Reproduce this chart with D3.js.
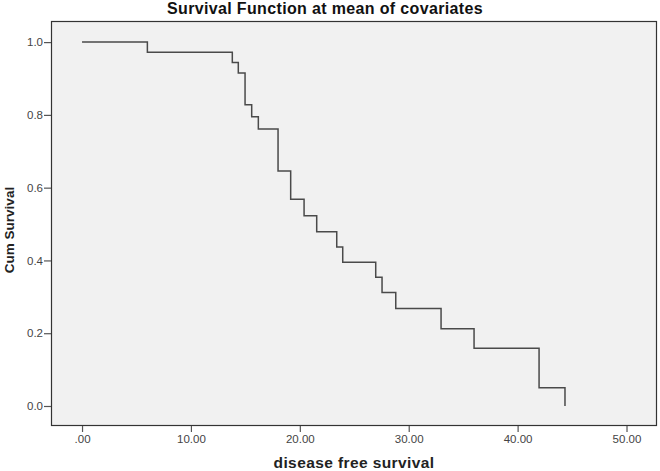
<!DOCTYPE html>
<html>
<head>
<meta charset="utf-8">
<script src="https://cdn.jsdelivr.net/npm/d3@7"></script>
<style>
  html, body { margin: 0; padding: 0; background: #ffffff; }
  svg { display: block; }
</style>
</head>
<body>
<svg id="chart" width="660" height="471"></svg>
<script>
// Data
const times    = [0, 6.0, 13.80, 14.35, 14.97, 15.58, 16.19, 18.0, 19.16, 20.39, 21.55, 23.39, 23.94, 26.97, 27.55, 28.81, 32.97, 36.0, 41.97, 44.35];
const survival = [1.0, 0.972, 0.944, 0.915, 0.828, 0.795, 0.761, 0.646, 0.568, 0.523, 0.479, 0.437, 0.395, 0.354, 0.312, 0.268, 0.212, 0.159, 0.050, 0.0];
const xTicks = [0, 10, 20, 30, 40, 50];
const yTicks = [0, 0.2, 0.4, 0.6, 0.8, 1.0];
const titleText = "Survival Function at mean of covariates";
const xLabel = "disease free survival";
const yLabel = "Cum Survival";

const svg = d3.select("#chart");
const plot = { left: 51, top: 21, right: 657, bottom: 426 };

const x = d3.scaleLinear().domain([-2.85, 52.8]).range([plot.left, plot.right]);
const y = d3.scaleLinear().domain([-0.055, 1.058]).range([plot.bottom, plot.top]);

// plot background + frame
svg.append("rect")
  .attr("x", plot.left + 0.5).attr("y", plot.top + 0.5)
  .attr("width", plot.right - plot.left - 1).attr("height", plot.bottom - plot.top - 1)
  .attr("fill", "#f1f1f1").attr("stroke", "#333").attr("stroke-width", 1.2);

// axes
const xAxis = d3.axisBottom(x).tickValues(xTicks).tickSize(6).tickPadding(3)
  .tickFormat(d => d === 0 ? ".00" : d3.format(".2f")(d));
const yAxis = d3.axisLeft(y).tickValues(yTicks).tickSize(7).tickPadding(1)
  .tickFormat(d3.format(".1f"));

const gx = svg.append("g").attr("transform", `translate(0,${plot.bottom})`).call(xAxis);
const gy = svg.append("g").attr("transform", `translate(${plot.left},0)`).call(yAxis);
[gx, gy].forEach(g => {
  g.select(".domain").remove();
  g.selectAll(".tick line").attr("stroke", "#555").attr("stroke-width", 1.2);
  g.selectAll(".tick text")
    .attr("fill", "#444")
    .style("font-family", "Arial, 'Liberation Sans', sans-serif")
    .style("font-size", "11.5px");
});

// survival step line
const line = d3.line()
  .x((d, i) => x(times[i]))
  .y((d, i) => y(survival[i]))
  .curve(d3.curveStepAfter);

svg.append("path")
  .datum(times)
  .attr("d", line)
  .attr("fill", "none")
  .attr("stroke", "#4a4a4a")
  .attr("stroke-width", 1.5);

// title
svg.append("text")
  .attr("x", 325).attr("y", 14)
  .attr("text-anchor", "middle")
  .style("font-family", "Arial, 'Liberation Sans', sans-serif")
  .style("font-size", "16px")
  .style("font-weight", "bold")
  .style("letter-spacing", "0.35px")
  .attr("fill", "#111")
  .text(titleText);

// x label
svg.append("text")
  .attr("x", 354).attr("y", 468)
  .attr("text-anchor", "middle")
  .style("font-family", "Arial, 'Liberation Sans', sans-serif")
  .style("font-size", "15.5px")
  .style("font-weight", "bold")
  .style("letter-spacing", "0.4px")
  .attr("fill", "#222")
  .text(xLabel);

// y label
svg.append("text")
  .attr("transform", "translate(14,230) rotate(-90)")
  .attr("text-anchor", "middle")
  .style("font-family", "Arial, 'Liberation Sans', sans-serif")
  .style("font-size", "13.5px")
  .style("font-weight", "bold")
  .attr("fill", "#222")
  .text(yLabel);
</script>
</body>
</html>
